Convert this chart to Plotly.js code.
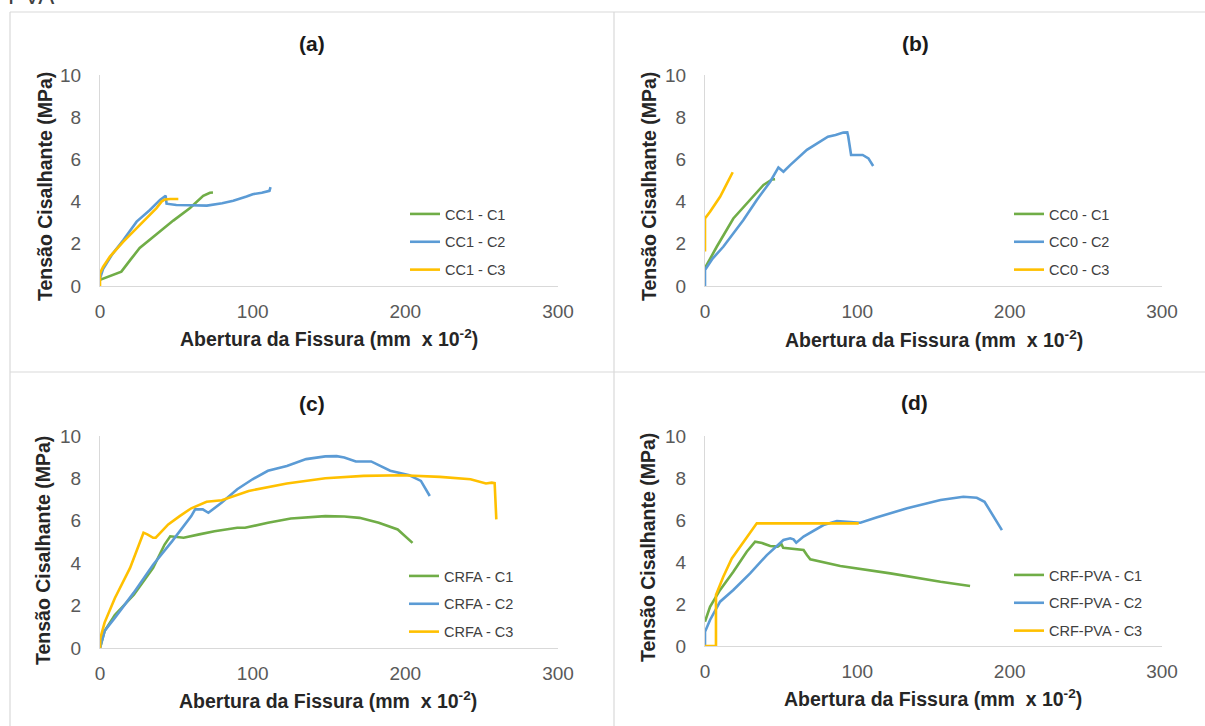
<!DOCTYPE html>
<html>
<head>
<meta charset="utf-8">
<script src="https://cdn.plot.ly/plotly-3.0.1.min.js"></script>
<style>html,body{margin:0;padding:0;background:#fff;}#chart{width:1205px;height:726px;}</style>
</head>
<body>
<div id="chart"></div>
<script>
// ---------- DATA ----------
const xTicks = [0, 100, 200, 300];
const yTicks = [0, 2, 4, 6, 8, 10];
const panelTitles = ['(a)', '(b)', '(c)', '(d)'];
const xTitle = 'Abertura da Fissura (mm  x 10<sup>-2</sup>)';
const yTitle = 'Tensão Cisalhante (MPa)';

// (a) CC1
const cc1Names = ['CC1 - C1', 'CC1 - C2', 'CC1 - C3'];
const cc1_c1_x = [0, 14, 20, 26, 37, 48, 59, 67.6, 72, 74];
const cc1_c1_y = [0.29, 0.68, 1.25, 1.8, 2.45, 3.1, 3.7, 4.27, 4.42, 4.43];
const cc1_c2_x = [0, 2, 8, 15.3, 24, 32.7, 39.3, 43, 43.6, 50, 59, 70, 80, 87.3, 96, 100, 106, 111, 111.7];
const cc1_c2_y = [0.35, 0.8, 1.5, 2.18, 3.05, 3.6, 4.08, 4.28, 3.9, 3.84, 3.83, 3.81, 3.92, 4.04, 4.24, 4.35, 4.42, 4.51, 4.69];
const cc1_c3_x = [0, 0, 2, 6.5, 15.3, 26, 37, 40.3, 42.5, 46, 51.3];
const cc1_c3_y = [0, 0.6, 0.9, 1.39, 2.1, 2.9, 3.69, 4.0, 4.1, 4.12, 4.12];

// (b) CC0
const cc0Names = ['CC0 - C1', 'CC0 - C2', 'CC0 - C3'];
const cc0_c1_x = [0, 7.7, 18.6, 29.6, 38.4, 44, 46];
const cc0_c1_y = [0.85, 1.86, 3.2, 4.08, 4.79, 5.05, 5.06];
const cc0_c2_x = [0, 0, 5, 12, 25.2, 34, 42.8, 48.2, 51.5, 55.9, 66.9, 75, 80.7, 85.7, 90.8, 93.4, 94, 95.9, 100, 103.5, 107.3, 110.4];
const cc0_c2_y = [0, 0.76, 1.3, 1.86, 3.13, 4.08, 4.94, 5.62, 5.42, 5.73, 6.45, 6.8, 7.08, 7.16, 7.27, 7.28, 7.1, 6.21, 6.22, 6.21, 6.05, 5.69];
const cc0_c3_x = [0, 0, 3.3, 9.9, 14, 18.2];
const cc0_c3_y = [1.63, 3.2, 3.52, 4.23, 4.8, 5.39];

// (c) CRFA
const crfaNames = ['CRFA - C1', 'CRFA - C2', 'CRFA - C3'];
const crfa_c1_x = [0, 3, 9.7, 22.2, 34.8, 42.3, 46, 50, 54.8, 65, 75, 89.9, 95, 110, 125, 147.6, 160, 170, 182.6, 195, 200.2, 204.7];
const crfa_c1_y = [0, 0.8, 1.56, 2.51, 3.78, 4.88, 5.27, 5.25, 5.2, 5.36, 5.51, 5.67, 5.67, 5.91, 6.11, 6.22, 6.2, 6.14, 5.91, 5.59, 5.27, 4.96];
const crfa_c2_x = [0, 3, 9.7, 22, 34.8, 47.3, 59.8, 62.3, 67.3, 71, 79.8, 89.9, 99.9, 110, 122.4, 135, 147.6, 155, 160, 167.6, 177.6, 190.1, 202.7, 210.2, 216];
const crfa_c2_y = [0, 0.8, 1.42, 2.6, 3.93, 5.04, 6.22, 6.54, 6.54, 6.38, 6.86, 7.49, 7.96, 8.36, 8.59, 8.91, 9.04, 9.05, 8.99, 8.8, 8.8, 8.36, 8.15, 7.88, 7.17];
const crfa_c3_x = [0, 0.2, 3, 9.7, 19.7, 28.5, 31, 34.8, 36.5, 40, 44.7, 52.2, 59.8, 69.8, 79.8, 97.4, 122.4, 147.6, 172.7, 197.6, 222.7, 242.7, 252.8, 256.6, 258.5, 259.6];
const crfa_c3_y = [0, 0.46, 1.2, 2.35, 3.78, 5.44, 5.36, 5.2, 5.2, 5.45, 5.83, 6.22, 6.59, 6.9, 6.97, 7.41, 7.76, 8.01, 8.12, 8.15, 8.07, 7.96, 7.76, 7.8, 7.78, 6.07];

// (d) CRF-PVA
const pvaNames = ['CRF-PVA - C1', 'CRF-PVA - C2', 'CRF-PVA - C3'];
const pva_c1_x = [0, 3.3, 9.9, 18.6, 27.4, 32.9, 37.5, 42.8, 47.7, 50.2, 51.3, 56, 64.7, 66.9, 69.1, 88.8, 121.7, 154.6, 174];
const pva_c1_y = [1.16, 1.87, 2.67, 3.54, 4.49, 4.97, 4.9, 4.76, 4.73, 4.85, 4.68, 4.64, 4.57, 4.33, 4.13, 3.81, 3.46, 3.06, 2.86];
const pva_c2_x = [0, 0, 3.3, 9.9, 18.6, 29.6, 40.6, 51.5, 55.9, 58.1, 59.9, 64.7, 77.8, 86.6, 93.2, 102, 113, 132.7, 154.6, 169.6, 178.4, 183.5, 194.9];
const pva_c2_y = [0, 0.68, 1.24, 2.11, 2.67, 3.46, 4.33, 5.05, 5.13, 5.08, 4.92, 5.21, 5.76, 5.95, 5.92, 5.87, 6.13, 6.56, 6.95, 7.11, 7.06, 6.87, 5.52];
const pva_c3_x = [0, 7.2, 7.2, 12, 17.6, 23, 34, 100.9];
const pva_c3_y = [0, 0, 2.43, 3.3, 4.17, 4.73, 5.84, 5.84];

// ---------- STYLE / LAYOUT ----------
const W = 1205, H = 726;
const px = v => v / W;
const py = v => 1 - v / H;
const colors = ['#70AD47', '#5B9BD5', '#FFC000'];
const FONT = '"Liberation Sans", Arial, sans-serif';

const panels = [
  {names: cc1Names, xs: [cc1_c1_x, cc1_c2_x, cc1_c3_x], ys: [cc1_c1_y, cc1_c2_y, cc1_c3_y]},
  {names: cc0Names, xs: [cc0_c1_x, cc0_c2_x, cc0_c3_x], ys: [cc0_c1_y, cc0_c2_y, cc0_c3_y]},
  {names: crfaNames, xs: [crfa_c1_x, crfa_c2_x, crfa_c3_x], ys: [crfa_c1_y, crfa_c2_y, crfa_c3_y]},
  {names: pvaNames, xs: [pva_c1_x, pva_c2_x, pva_c3_x], ys: [pva_c1_y, pva_c2_y, pva_c3_y]}
];

// pixel geometry of each panel
const geo = [
  {x0: 100, x1: 558, y0: 286, y1: 75, title: [312, 44], xt: [329, 338], yt: [45, 187], leg: [405, 198]},
  {x0: 705, x1: 1162, y0: 286, y1: 75, title: [915, 44], xt: [934, 339], yt: [649, 187], leg: [1009, 198]},
  {x0: 100, x1: 558, y0: 648, y1: 436, title: [312, 404], xt: [328, 700], yt: [43, 551], leg: [404, 560]},
  {x0: 705, x1: 1162, y0: 646, y1: 436, title: [914, 402], xt: [933, 698], yt: [648, 548], leg: [1009, 559]}
];

const traces = [];
const layout = {
  width: W, height: H,
  margin: {l: 0, r: 0, t: 0, b: 0},
  paper_bgcolor: '#ffffff', plot_bgcolor: '#ffffff',
  font: {family: FONT, color: '#595959'},
  showlegend: true,
  annotations: [], shapes: []
};

panels.forEach((p, i) => {
  const g = geo[i];
  const sfx = i === 0 ? '' : String(i + 1);
  const legName = 'legend' + sfx;
  p.names.forEach((n, k) => {
    traces.push({
      type: 'scatter', mode: 'lines', name: n,
      x: p.xs[k], y: p.ys[k],
      xaxis: 'x' + sfx, yaxis: 'y' + sfx,
      legend: legName, legendgroup: 'g' + i + '_' + k,
      line: {color: colors[k], width: 2.6},
      hoverinfo: 'skip'
    });
  });
  layout['xaxis' + sfx] = {
    domain: [px(g.x0), px(g.x1)], anchor: 'y' + sfx,
    range: [0, 300], tickvals: xTicks, ticktext: xTicks.map(String),
    showgrid: false, zeroline: false, showline: true, linecolor: '#D9D9D9', linewidth: 1,
    ticks: '', ticklabelstandoff: 8,
    tickfont: {size: 19, color: '#595959', family: FONT}, fixedrange: true
  };
  layout['yaxis' + sfx] = {
    domain: [py(g.y0), py(g.y1)], anchor: 'x' + sfx,
    range: [0, 10], tickvals: yTicks, ticktext: yTicks.map(String),
    showgrid: false, zeroline: false, showline: true, linecolor: '#D9D9D9', linewidth: 1,
    ticks: '', ticklabelstandoff: 14,
    tickfont: {size: 19, color: '#595959', family: FONT}, fixedrange: true
  };
  layout[legName] = {
    x: px(g.leg[0]), y: py(g.leg[1]), xanchor: 'left', yanchor: 'top',
    bgcolor: 'rgba(0,0,0,0)', borderwidth: 0,
    font: {size: 14.5, color: '#404040', family: FONT},
    traceorder: 'grouped', tracegroupgap: 6
  };
  layout.annotations.push(
    {text: '<b>' + panelTitles[i] + '</b>', x: px(g.title[0]), y: py(g.title[1]), xref: 'paper', yref: 'paper',
     xanchor: 'center', yanchor: 'middle', showarrow: false, font: {size: 21, color: '#1a1a1a', family: FONT}},
    {text: '<b>' + xTitle + '</b>', x: px(g.xt[0]), y: py(g.xt[1]), xref: 'paper', yref: 'paper',
     xanchor: 'center', yanchor: 'middle', showarrow: false, font: {size: 19.5, color: '#262626', family: FONT}},
    {text: '<b>' + yTitle + '</b>', x: px(g.yt[0]), y: py(g.yt[1]), xref: 'paper', yref: 'paper',
     xanchor: 'center', yanchor: 'middle', showarrow: false, textangle: -90, font: {size: 19.5, color: '#262626', family: FONT}}
  );
});

// partially visible heading text at the very top
layout.annotations.push({text: 'PVA', x: px(6), y: py(-4), xref: 'paper', yref: 'paper',
  xanchor: 'left', yanchor: 'middle', showarrow: false, font: {size: 24, color: '#404040', family: FONT}});

// panel borders
const border = {color: '#D9D9D9', width: 1.2};
layout.shapes.push(
  {type: 'line', xref: 'paper', yref: 'paper', x0: px(10), x1: 1, y0: py(12), y1: py(12), line: border},
  {type: 'line', xref: 'paper', yref: 'paper', x0: px(10), x1: px(10), y0: py(12), y1: 0, line: border},
  {type: 'line', xref: 'paper', yref: 'paper', x0: px(614), x1: px(614), y0: py(12), y1: 0, line: border},
  {type: 'line', xref: 'paper', yref: 'paper', x0: px(10), x1: 1, y0: py(372), y1: py(372), line: border}
);

Plotly.newPlot('chart', traces, layout, {staticPlot: true, displayModeBar: false});
</script>
</body>
</html>
